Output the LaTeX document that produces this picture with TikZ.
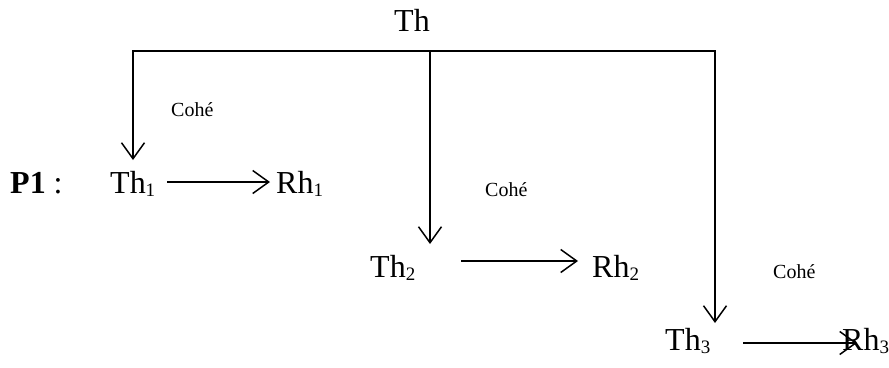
\documentclass[tikz,border=0pt]{standalone}
\usepackage{fontspec}
\setmainfont{Liberation Serif}
\usetikzlibrary{arrows.meta}

% lowered, smaller index after a symbol
\newcommand{\idx}[1]{\raisebox{-3pt}{\fontsize{19}{19}\selectfont #1}}

\tikzset{
  big/.style={inner sep=0pt, font=\fontsize{32}{38}\selectfont},
  small/.style={inner sep=0pt, font=\fontsize{20}{24}\selectfont},
  line/.style={line width=1.5pt},
  barb/.tip={Straight Barb[length=16pt,width=23pt,line width=1.5pt]},
  arr/.style={line, -barb},
  arr2/.style={line, barb-barb}
}

\begin{document}
\begin{tikzpicture}[x=1pt, y=-1pt]
  \path[use as bounding box] (0,0) rectangle (889,367);

  % texts
  \node[big, anchor=base] (th) at (412,31) {Th};
  \node[big, anchor=base west] (p1) at (10,193) {\textbf{P1} :};
  \node[big, anchor=base west] (th1) at (110,193) {Th\idx{1}};
  \node[big, anchor=base west] (rh1) at (276,193) {Rh\idx{1}};
  \node[big, anchor=base west] (th2) at (370,277) {Th\idx{2}};
  \node[big, anchor=base west] (rh2) at (592,277) {Rh\idx{2}};
  \node[big, anchor=base west] (th3) at (665,350) {Th\idx{3}};
  \node[big, anchor=base west] (rh3) at (842,350) {Rh\idx{3}};
  \node[small, anchor=base west] (c1) at (171,116) {Cohé};
  \node[small, anchor=base west] (c2) at (485,196) {Cohé};
  \node[small, anchor=base west] (c3) at (773,278) {Cohé};

  % branching bus under Th
  \coordinate (bl) at (133,51);
  \coordinate (bm) at (430,51);
  \coordinate (br) at (715,51);
  \coordinate (t1) at (133,160);
  \coordinate (t2) at (430,244);
  \coordinate (t3) at (715,323);
  \draw[arr2] (t1) -- (bl) -- (br) -- (t3);
  \draw[arr] (bm) -- (t2);

  % Th_i --> Rh_i
  \draw[arr] ([shift={(12,-11)}]th1.base east) -- ([shift={(-6,-11)}]rh1.base west);
  \draw[arr] ([shift={(46,-16)}]th2.base east) -- ([shift={(-14,-16)}]rh2.base west);
  \draw[arr] ([shift={(33,-7)}]th3.base east) -- ([shift={(15,-7)}]rh3.base west);
\end{tikzpicture}
\end{document}
